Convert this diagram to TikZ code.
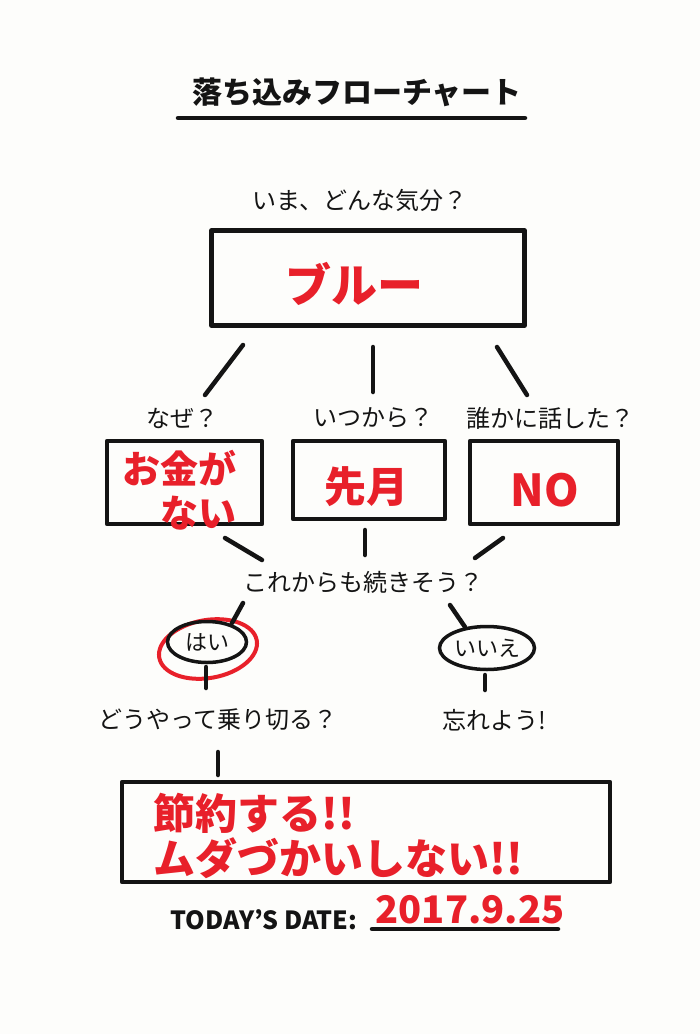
\documentclass[tikz,border=0pt]{standalone}
\usepackage{fontspec}
\setmainfont{Noto Sans CJK JP}
\usetikzlibrary{positioning,shapes.geometric}
\definecolor{PenInk}{HTML}{141414}
\definecolor{PenRed}{HTML}{E8202A}
\definecolor{PaperWhite}{HTML}{FDFDFB}

\begin{document}
\begin{tikzpicture}[x=1pt, y=-1pt,
  pen/.style={line width=4.5pt, color=PenInk, line cap=round, line join=round},
  frame/.style={draw, pen, rectangle, inner sep=0pt},
  oval/.style={draw, ellipse, line width=3.5pt, color=PenInk, inner sep=0pt},
  ask/.style={font=\fontsize{#1}{#1}\selectfont, text=PenInk},
  ask/.default=24,
  answer/.style={font=\fontsize{#1}{#1}\bfseries, text=PenRed},
  answer/.default=42
]
  \useasboundingbox[fill=PaperWhite] (0,0) rectangle (700,1034);

  % Title
  \node[ask=30, font=\fontsize{30}{32}\bfseries] (title) at (357,92) {落ち込みフローチャート};
  \draw[pen] ([shift={(-179,26)}]title.center) -- ([shift={(168,26)}]title.center);

  % Mood
  \node[ask] (mood) at (360,200) {いま、どんな気分？};
  \node[frame, minimum width=313pt, minimum height=95pt] (blue) at (368,278) {};
  \node[answer=46] (bluetext) at (354,284) {ブルー};

  % Questions
  \node[ask] (why)  at (182,418) {なぜ？};
  \node[ask] (when) at (373,418) {いつから？};
  \node[ask] (who)  at (550,418) {誰かに話した？};

  \draw[pen] ([shift={(-125,67)}]blue.center) -- ([shift={(23,-23)}]why.center);
  \draw[pen] ([shift={(5,69)}]blue.center)    -- ([shift={(0,-26)}]when.center);
  \draw[pen] ([shift={(129,69)}]blue.center)  -- ([shift={(-23,-23)}]who.center);

  % Answer boxes
  \node[frame, minimum width=155pt, minimum height=83pt] (money) at (184.5,482.5) {};
  \node[frame, minimum width=152pt, minimum height=78pt] (month) at (369,480) {};
  \node[frame, minimum width=148pt, minimum height=83pt] (told)  at (544,482.5) {};

  \node[answer=38, align=right, font=\fontsize{38}{44}\bfseries] (moneytext) at (179,490) {お金が\\ない};
  \node[answer] (monthtext) at (366,487) {先月};
  \node[answer=44] (toldtext) at (545,490) {NO};

  % Continue?
  \node[ask] (cont) at (363,582) {これからも続きそう？};
  \draw[pen] ([shift={(40.5,55.5)}]money.center) -- ([shift={(-101,-22)}]cont.center);
  \draw[pen] ([shift={(-4,50)}]month.center)     -- ([shift={(2,-27)}]cont.center);
  \draw[pen] ([shift={(-41,55.5)}]told.center)   -- ([shift={(112,-24)}]cont.center);

  % Yes / No
  \node[draw, ellipse, line width=4pt, color=PenRed, rotate=10,
        minimum width=99pt, minimum height=58pt] (yesmark) at (208,649) {};
  \node[oval, ask=22, minimum width=79pt, minimum height=41pt] (yes) at (207,642) {はい};
  \node[oval, ask=22, minimum width=95pt, minimum height=43pt] (no)  at (487,648) {いいえ};

  \draw[pen] ([shift={(-120,21)}]cont.center) -- ([shift={(25,-19)}]yes.center);
  \draw[pen] ([shift={(87,23)}]cont.center)   -- ([shift={(-22,-21)}]no.center);

  % Next steps
  \node[ask] (how)    at (218,720) {どうやって乗り切る？};
  \node[ask] (forget) at (494,720) {忘れよう!};
  \draw[pen] ([shift={(-1,25)}]yes.center) -- ([shift={(-12,-32)}]how.center);
  \draw[pen] ([shift={(-2,27)}]no.center)  -- ([shift={(-9,-30)}]forget.center);

  % Plan
  \node[frame, minimum width=488pt, minimum height=100pt] (plan) at (366,832) {};
  \draw[pen] ([shift={(0,32)}]how.center) -- ([shift={(-148,-57)}]plan.center);
  \node[answer, align=left, anchor=west, font=\fontsize{42}{45}\bfseries] (plantext) at (150,836)
    {節約する!!\\ムダづかいしない!!};

  % Date
  \node[ask=25, font=\fontsize{25}{27}\bfseries] (today) at (264,920) {TODAY'S DATE:};
  \node[answer=38] (date) at (470,910) {2017.9.25};
  \draw[pen] ([shift={(-98,19)}]date.center) -- ([shift={(88,19)}]date.center);
\end{tikzpicture}
\end{document}
